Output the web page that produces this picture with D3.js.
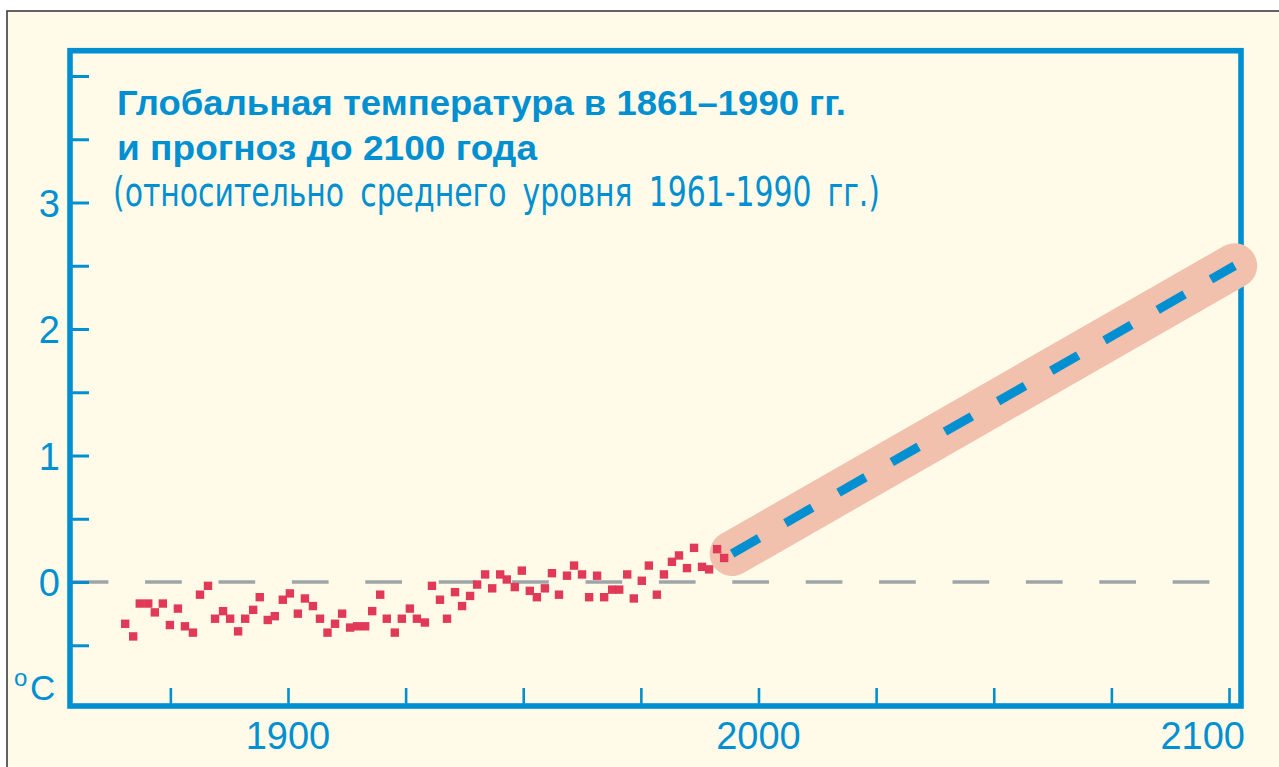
<!DOCTYPE html>
<html>
<head>
<meta charset="utf-8">
<script src="https://cdn.jsdelivr.net/npm/d3@7"></script>
<style>
  html, body { margin: 0; padding: 0; background: #ffffff; }
  svg { display: block; }
</style>
</head>
<body>
<svg id="chart" width="1279" height="767"></svg>
<script>
// ---- data ----
const years = [
  1865.4, 1867.1, 1868.5, 1870.3, 1871.7, 1873.4, 1874.9, 1876.6, 1878.1, 1879.8,
  1881.3, 1883.0, 1884.5, 1886.2, 1887.7, 1889.4, 1890.9, 1892.6, 1894.0, 1895.7,
  1897.2, 1898.9, 1900.4, 1902.1, 1903.6, 1905.3, 1906.8, 1908.4, 1910.0, 1911.5,
  1913.2, 1914.7, 1916.4, 1917.9, 1919.6, 1921.0, 1922.7, 1924.2, 1925.9, 1927.4,
  1929.1, 1930.6, 1932.3, 1933.8, 1935.5, 1937.0, 1938.7, 1940.2, 1941.9, 1943.4,
  1945.1, 1946.5, 1948.2, 1949.7, 1951.4, 1952.9, 1954.6, 1956.1, 1957.6, 1959.3,
  1960.8, 1962.5, 1964.0, 1965.7, 1967.2, 1968.9, 1970.4, 1972.1, 1973.5, 1975.2,
  1976.7, 1978.4, 1979.9, 1981.6, 1983.1, 1984.8, 1986.3, 1988.0, 1989.5, 1991.2,
  1992.7
];
const anomalies = [
  -0.33, -0.43, -0.17, -0.17, -0.24, -0.17, -0.34, -0.21, -0.35, -0.40,
  -0.10, -0.03, -0.29, -0.23, -0.29, -0.39, -0.29, -0.22, -0.12, -0.30,
  -0.27, -0.14, -0.09, -0.25, -0.13, -0.19, -0.29, -0.40, -0.33, -0.25,
  -0.36, -0.35, -0.35, -0.23, -0.10, -0.29, -0.40, -0.29, -0.21, -0.29,
  -0.32, -0.03, -0.14, -0.29, -0.08, -0.19, -0.11, -0.02, 0.06, -0.05,
  0.06, 0.02, -0.04, 0.09, -0.07, -0.12, -0.05, 0.07, -0.10, 0.05,
  0.13, 0.06, -0.12, 0.05, -0.12, -0.06, -0.06, 0.06, -0.13, 0.01,
  0.13, -0.10, 0.06, 0.16, 0.21, 0.11, 0.27, 0.12, 0.10, 0.26,
  0.19
];
const projYears = [1994.4, 2101.2];
const projValues = [0.225, 2.5];

const yTickValues = [-0.5, 0, 0.5, 1, 1.5, 2, 2.5, 3, 3.5, 4];
const yLabelValues = [0, 1, 2, 3];
const xTickValues = [1875, 1900, 1925, 1950, 1975, 2000, 2025, 2050, 2075, 2100];
const xLabelValues = [1900, 2000, 2100];

const titleLines = ["Глобальная температура в 1861–1990 гг.", "и прогноз до 2100 года"];
const subtitle = "(относительно среднего уровня 1961-1990 гг.)";
const unitLabel = "C";

// ---- drawing ----
const BLUE = "#0090d1";
const svg = d3.select("#chart");

const x = d3.scaleLinear().domain([1853.67, 2102.55]).range([70, 1241]);
const y = d3.scaleLinear().domain([-0.98, 4.2]).range([706, 50.7]);

// page background with outer frame
svg.append("rect").attr("x", 7).attr("y", 11).attr("width", 1300).attr("height", 800)
  .attr("fill", "#fffbe8").attr("stroke", "#3d3d3d").attr("stroke-width", 1.6);

// zero reference line
svg.append("line")
  .attr("x1", x.range()[0] + 1.7).attr("x2", x.range()[1])
  .attr("y1", y(0)).attr("y2", y(0))
  .attr("stroke", "#9ea5a9").attr("stroke-width", 3.6)
  .attr("stroke-dasharray", "36.7,36.7");

// y ticks (inward)
const yAxis = d3.axisLeft(y).tickValues(yTickValues).tickSize(-19).tickFormat("");
const gy = svg.append("g").attr("transform", `translate(${x.range()[0]},0)`).call(yAxis);
gy.select(".domain").remove();
gy.selectAll(".tick line").attr("stroke", BLUE).attr("stroke-width", 3);

// x ticks (inward)
const xAxis = d3.axisBottom(x).tickValues(xTickValues).tickSize(-18).tickFormat("");
const gx = svg.append("g").attr("transform", `translate(0,${y.range()[0]})`).call(xAxis);
gx.select(".domain").remove();
gx.selectAll(".tick line").attr("stroke", BLUE).attr("stroke-width", 2.6);

// frame
svg.append("rect")
  .attr("x", x.range()[0]).attr("y", y.range()[1])
  .attr("width", x.range()[1] - x.range()[0])
  .attr("height", y.range()[0] - y.range()[1])
  .attr("fill", "none").attr("stroke", BLUE).attr("stroke-width", 5.6);

// projection band + dashed line
const proj = projYears.map((yr, i) => [x(yr), y(projValues[i])]);
const line = d3.line();
svg.append("path").attr("d", line(proj))
  .attr("fill", "none").attr("stroke", "#f2c1ad").attr("stroke-width", 45)
  .attr("stroke-linecap", "round");
svg.append("path").attr("d", line(proj))
  .attr("fill", "none").attr("stroke", BLUE).attr("stroke-width", 9)
  .attr("stroke-dasharray", "31,30.3").attr("stroke-linecap", "butt");

// observed squares
const S = 8.4;
svg.append("g").selectAll("rect").data(years.map((yr, i) => [yr, anomalies[i]]))
  .join("rect")
  .attr("x", d => x(d[0]) - S / 2).attr("y", d => y(d[1]) - S / 2)
  .attr("width", S).attr("height", S).attr("fill", "#e03a58");

// y labels
svg.append("g").selectAll("text").data(yLabelValues).join("text")
  .attr("x", 60).attr("y", d => y(d) + 14)
  .attr("text-anchor", "end")
  .attr("font-family", "'Liberation Sans', Arial, sans-serif")
  .attr("font-size", 38).attr("fill", BLUE)
  .text(d => d);

// x labels
svg.append("g").selectAll("text").data(xLabelValues).join("text")
  .attr("x", (d, i) => i === xLabelValues.length - 1 ? x.range()[1] + 4 : x(d))
  .attr("y", 749)
  .attr("text-anchor", (d, i) => i === xLabelValues.length - 1 ? "end" : "middle")
  .attr("font-family", "'Liberation Sans', Arial, sans-serif")
  .attr("font-size", 38).attr("fill", BLUE)
  .text(d => d);

// unit label °C
svg.append("text").attr("x", 14).attr("y", 686)
  .attr("font-family", "'Liberation Sans', Arial, sans-serif")
  .attr("font-size", 24).attr("fill", BLUE).text("o");
svg.append("text").attr("x", 30).attr("y", 700)
  .attr("font-family", "'Liberation Sans', Arial, sans-serif")
  .attr("font-size", 35).attr("fill", BLUE).text(unitLabel);

// title
const titleWidths = [729, 420];
const titleBase = [115, 160];
titleLines.forEach((t, i) => {
  svg.append("text").attr("x", 117).attr("y", titleBase[i])
    .attr("font-family", "'Liberation Sans', Arial, sans-serif")
    .attr("font-weight", "bold").attr("font-size", 35.5).attr("fill", BLUE)
    .attr("textLength", titleWidths[i]).attr("lengthAdjust", "spacingAndGlyphs")
    .text(t);
});
svg.append("text").attr("x", 113).attr("y", 206)
  .attr("font-family", "'Liberation Sans Narrow', 'DejaVu Sans Condensed', 'Liberation Sans', sans-serif")
  .attr("font-size", 40).attr("fill", BLUE)
  .attr("textLength", 767).attr("lengthAdjust", "spacingAndGlyphs")
  .attr("word-spacing", 8)
  .text(subtitle);
</script>
</body>
</html>
